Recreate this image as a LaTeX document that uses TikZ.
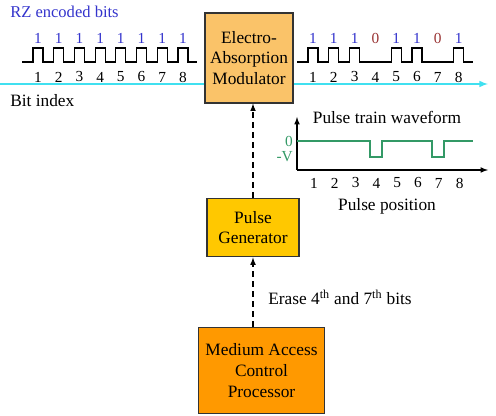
\documentclass[tikz,border=0pt]{standalone}
\usepackage{fontspec}
\setmainfont{Liberation Serif}
\usetikzlibrary{positioning,arrows}

\definecolor{bitblue}{RGB}{51,51,204}
\definecolor{bitred}{RGB}{153,51,51}
\definecolor{wavegreen}{RGB}{51,153,102}
\definecolor{fibre}{RGB}{64,224,240}
\definecolor{eamfill}{RGB}{250,195,105}
\definecolor{pgfill}{RGB}{255,200,0}
\definecolor{macfill}{RGB}{255,153,0}

\tikzset{
  block/.style={draw=black!80,line width=0.9pt,align=center,inner sep=1pt,
    font=\fontsize{13}{15.5}\selectfont},
  lbl/.style={font=\fontsize{13}{15}\selectfont,inner sep=0pt},
  digit/.style={font=\fontsize{11.5}{13}\selectfont,inner sep=0pt},
  wave/.style={black,line width=0.9pt},
  ctrl/.style={-latex,line width=0.9pt,dash pattern=on 4.5pt off 3pt}
}

\begin{document}
\begin{tikzpicture}[x=0.75pt,y=-0.75pt]
   \useasboundingbox (0,0) rectangle (496,416);
   % fibre line under the modulator
   \coordinate (fin) at (0,84);
   \coordinate (fout) at (488,84);
   \draw[fibre,line width=1.2pt,-latex] (fin) -- (fout);

   \node[block,fill=eamfill,minimum width=66pt,minimum height=67.5pt] (eam) at (249,58)
      {Electro-\\Absorption\\Modulator};
   \node[block,fill=pgfill,minimum width=69pt,minimum height=44pt] (pg) at (253,227.5)
      {Pulse\\Generator};
   \node[block,fill=macfill,minimum width=95pt,minimum height=65pt] (mac) at (261.5,370.5)
      {Medium Access\\Control\\Processor};

   \draw[ctrl] (pg.south |- mac.north) -- (pg.south);
   \draw[ctrl] (pg.north) -- (pg.north |- eam.south);
   \node[lbl,anchor=west] (erase) at (268,297) {Erase 4\textsuperscript{th} and 7\textsuperscript{th} bits};

   % RZ bits in
   \node[lbl,text=bitblue,anchor=west,font=\fontsize{12.4}{14}\selectfont] (rz) at (10,12) {RZ encoded bits};
   \node[lbl,anchor=west] (idx) at (10,101) {Bit index};
   \draw[wave] (22,62) \foreach \i in {1,...,8} {
      -- ({38+20.7*(\i-1)-5},62) -- ({38+20.7*(\i-1)-5},48)
      -- ({38+20.7*(\i-1)+5},48) -- ({38+20.7*(\i-1)+5},62) } -- (197,62);
   \foreach \i in {1,...,8} {
      \node[digit,text=bitblue] (inb\i) at ({38+20.7*(\i-1)},38) {1};
      \node[digit] (inn\i) at ({38+20.7*(\i-1)},77) {\i};
   }

   % bits out
   \draw[wave] (297,62) \foreach \b [count=\i] in {1,1,1,0,1,1,0,1} {
      -- ({313+20.8*(\i-1)-5},62) -- ({313+20.8*(\i-1)-5},{62-14*\b})
      -- ({313+20.8*(\i-1)+5},{62-14*\b}) -- ({313+20.8*(\i-1)+5},62) } -- (473,62);
   \foreach \b [count=\i] in {1,1,1,0,1,1,0,1} {
      \ifnum\b=1 \def\bc{bitblue}\else \def\bc{bitred}\fi
      \node[digit,text=\bc] (outb\i) at ({313+20.8*(\i-1)},38) {\b};
      \node[digit] (outn\i) at ({313+20.8*(\i-1)},77) {\i};
   }

   % pulse train
   \coordinate (org) at (297,170);
   \coordinate (ytop) at (297,117);
   \coordinate (xend) at (488,170);
   \draw[-latex,line width=0.9pt] (org) -- (ytop);
   \draw[-latex,line width=0.9pt] (org) -- (xend);
   \draw[wavegreen,line width=0.9pt] (297,141) -- (370,141) -- (370,157) -- (382,157)
      -- (382,141) -- (432,141) -- (432,157) -- (444,157) -- (444,141) -- (473,141);
   \node[digit,text=wavegreen,anchor=east] (zero) at (293,141) {0};
   \node[digit,text=wavegreen,anchor=east] (minv) at (293,157) {-V};
   \foreach \i in {1,...,8}
      \node[digit] (pn\i) at ({314+20.8*(\i-1)},183) {\i};
   \node[lbl] (ptw) at (387,117) {Pulse train waveform};
   \node[lbl] (ppos) at (387,206) {Pulse position};
\end{tikzpicture}
\end{document}
